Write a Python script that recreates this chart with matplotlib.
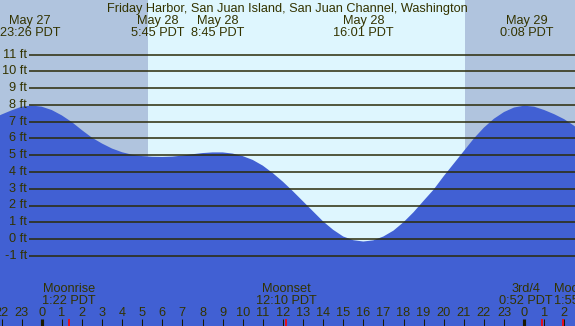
#! /usr/bin/env python3
import matplotlib.pyplot as plt
import matplotlib.transforms as mtransforms
import numpy as np

plt.rcParams['font.family'] = ['Liberation Sans', 'DejaVu Sans']

# tide height (ft) read every half hour, hours counted from May 28 00:00
tide_hours = np.arange(-2.5, 27.5, 0.5)
tide_ft = [7.15, 7.43, 7.68, 7.9, 7.97, 7.9, 7.7, 7.38, 6.98, 6.5, 6.05,
           5.7, 5.4, 5.18, 5.03, 4.95, 4.91, 4.9, 4.92, 4.98, 5.06, 5.13,
           5.17, 5.17, 5.1, 4.95, 4.72, 4.38, 3.93, 3.42, 2.85, 2.25, 1.65,
           1.05, 0.55, 0.15, -0.07, -0.15, -0.08, 0.15, 0.5, 1.0, 1.6, 2.28,
           2.95, 3.75, 4.5, 5.25, 6.0, 6.65, 7.18, 7.58, 7.85, 7.96, 7.9,
           7.7, 7.45, 7.15, 6.75, 6.2]

# high / low tides
extreme_hours = [-0.567, 5.75, 8.75, 16.017, 24.133]
extreme_dates = ['May 27', 'May 28', 'May 28', 'May 28', 'May 29']
extreme_times = ['23:26 PDT', '5:45 PDT', '8:45 PDT', '16:01 PDT', '0:08 PDT']

sunrise = 5.28
sunset = 21.05

moon_hours = [1.367, 12.167, 24.867, 25.917]
moon_names = ['Moonrise', 'Moonset', '3rd/4', 'Moonrise']
moon_times = ['1:22 PDT', '12:10 PDT', '0:52 PDT', '1:55 PDT']

ft_levels = list(range(-1, 12))
title = 'Friday Harbor, San Juan Island, San Juan Channel, Washington'

W, H = 575, 326
x0, ppx = 41.7, 20.1        # pixel of midnight, pixels per hour
y0, ppf = 239.0, 16.75      # pixel of 0 ft, pixels per foot
xlim = (-x0 / ppx, (W - x0) / ppx)
ylim = ((y0 - H) / ppf, y0 / ppf)

txt = '#333300'
fs = 9.2

fig = plt.figure(figsize=(W / 100, H / 100), dpi=100)
fig.patch.set_facecolor('#DEF6FE')
ax = fig.add_axes([0, 0, 1, 1])
ax.set_xlim(xlim)
ax.set_ylim(ylim)
ax.set_axis_off()

ax.axvspan(xlim[0], sunrise, color='#B0C4DE', lw=0, zorder=0)
ax.axvspan(sunset, xlim[1], color='#B0C4DE', lw=0, zorder=0)

ax.fill_between(tide_hours, tide_ft, ylim[0] - 1, color='#4160D3', lw=0, zorder=1)

# grid lines and ft labels
ax.hlines(ft_levels, (29 - x0) / ppx, xlim[1], color='#2b2b08', lw=1.1, zorder=2)
for lv in ft_levels:
    ax.text((27 - x0) / ppx, lv, f'{lv} ft', ha='right', va='center',
            fontsize=fs, color=txt, zorder=3)

tb = mtransforms.blended_transform_factory(ax.transData, ax.transAxes)


def ya(px):
    return 1 - px / H


ax.text(0.5 * (104 + 470) / W, ya(11.7), title, transform=ax.transAxes,
        ha='center', va='baseline', fontsize=fs, color=txt)
for h, d, t in zip(extreme_hours, extreme_dates, extreme_times):
    ax.text(h, ya(24), d, transform=tb, ha='center', va='baseline', fontsize=fs, color=txt)
    ax.text(h, ya(35.7), t, transform=tb, ha='center', va='baseline', fontsize=fs, color=txt)

# hour ticks along the bottom
for h in range(-2, 27):
    ax.text(h, ya(316), str(h % 24), transform=tb, ha='center', va='baseline',
            fontsize=fs, color=txt, zorder=3)
    lw = 3 if h % 24 == 0 else 1
    ax.vlines(h, 0, ya(318.5), transform=tb, color='#1a1a00', lw=lw * 0.75, zorder=3)

# moon events
label_x = [None, None, (526 - x0) / ppx, None]
label_ha = ['center', 'center', 'center', 'left']
for i, (h, n, t) in enumerate(zip(moon_hours, moon_names, moon_times)):
    lx = label_x[i] if label_x[i] is not None else h
    if label_ha[i] == 'left':
        lx = (553.5 - x0) / ppx
    ax.text(lx, ya(291.7), n, transform=tb, ha=label_ha[i], va='baseline',
            fontsize=fs, color=txt, zorder=3)
    ax.text(lx, ya(303.7), t, transform=tb, ha=label_ha[i], va='baseline',
            fontsize=fs, color=txt, zorder=3)
    ax.vlines(h, 0, ya(318.5), transform=tb, color='red', lw=1.2, zorder=4)

fig.savefig('out.png', dpi=100)
